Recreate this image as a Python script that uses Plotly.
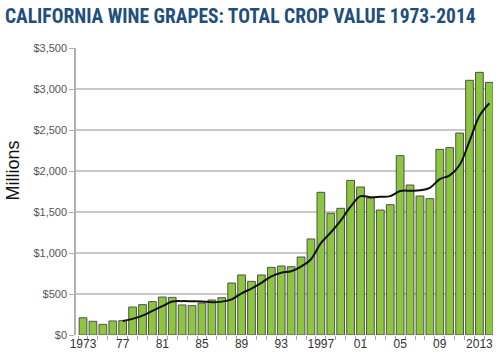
import plotly.graph_objects as go

years = list(range(1973, 2015))
crop_value = [210, 167, 130, 171, 175, 341, 370, 407, 463, 459,
              366, 358, 390, 427, 455, 634, 732, 654, 732, 825,
              841, 833, 951, 1171, 1740, 1484, 1545, 1886, 1805, 1671,
              1524, 1589, 2187, 1829, 1695, 1663, 2264, 2285, 2463, 3106,
              3203, 3081]
avg_years = list(range(1977, 2015))
avg_value = [171, 197, 237, 293, 351, 408, 413, 411, 408, 400,
             407, 435, 508, 567, 636, 715, 760, 778, 835, 924,
             1120, 1250, 1395, 1565, 1693, 1680, 1686, 1694, 1756, 1760,
             1764, 1795, 1900, 1947, 2074, 2365, 2670, 2826]
tick_years = [1973, 1977, 1981, 1985, 1989, 1993, 1997, 2001, 2005, 2009, 2013]
tick_labels = ["1973", "77", "81", "85", "89", "93", "1997", "01", "05", "09", "2013"]

fig = go.Figure()
fig.add_trace(go.Bar(
    x=years, y=crop_value, width=0.78,
    marker=dict(color="#8cc63f", line=dict(color="#505050", width=1)),
    showlegend=False,
))
fig.add_trace(go.Scatter(
    x=avg_years, y=avg_value, mode="lines",
    line=dict(color="#111111", width=2, shape="spline"),
    showlegend=False,
))

fig.update_layout(
    width=500, height=362,
    margin=dict(l=76, r=7, t=48, b=27),
    paper_bgcolor="white", plot_bgcolor="white",
    font=dict(family="Liberation Sans, Arial, sans-serif"),
    title=dict(
        text="CALIFORNIA WINE GRAPES: TOTAL CROP VALUE 1973-2014",
        x=0.01, xanchor="left", y=0.955, yanchor="middle",
        font=dict(family="Liberation Sans Narrow, Roboto Condensed, Arial Narrow, sans-serif",
                  size=19.5, color="#1f4f7c", weight="bold"),
    ),
    bargap=0.2,
    annotations=[dict(
        text="Millions", textangle=-90, xref="paper", yref="y",
        x=(12.5 - 76) / 417, y=2000, xanchor="center", yanchor="middle",
        showarrow=False, font=dict(size=18, color="#111111"),
    )],
)
fig.update_xaxes(
    range=[1972.29, 2014.37],
    tickmode="array", tickvals=tick_years, ticktext=tick_labels,
    tickfont=dict(size=12, color="#333333"),
    ticks="", showgrid=False, zeroline=False, showline=False,
    minor=dict(tickmode="linear", tick0=1972.5, dtick=1, ticks="outside",
               ticklen=4, tickcolor="#a99bd4", tickwidth=1, showgrid=False),
)
fig.update_yaxes(
    range=[0, 3500], dtick=500, tickprefix="$", tickformat=",",
    tickfont=dict(size=11, color="#555555"),
    showgrid=True, gridcolor="#c8c8c8", gridwidth=1.5,
    showline=True, linecolor="#b0b0b0", linewidth=1.5,
    ticks="outside", ticklen=5, tickcolor="#b0b0b0",
    zeroline=False,
)

fig.write_html("out.html", config={"displayModeBar": False},
               post_script="document.body.style.margin='0';document.body.style.overflow='hidden';")
